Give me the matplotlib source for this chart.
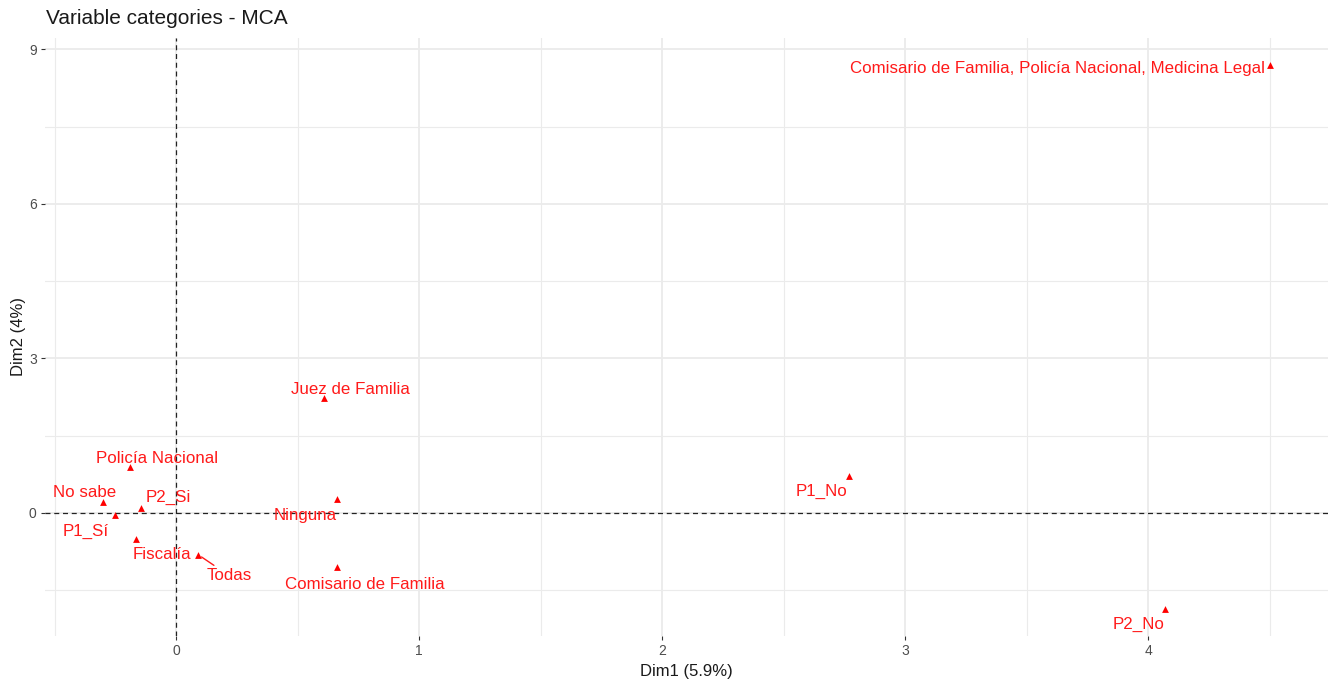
import matplotlib
matplotlib.use("Agg")
import matplotlib.pyplot as plt
from matplotlib.ticker import MultipleLocator

plt.rcParams.update({
    "font.family": ["Liberation Sans", "DejaVu Sans"],
})

# MCA variable categories (Dim1, Dim2)
categories = [
    "Comisario de Familia, Policía Nacional, Medicina Legal",
    "Juez de Familia",
    "Policía Nacional",
    "No sabe",
    "P2_Si",
    "P1_Sí",
    "Fiscalía",
    "Todas",
    "Ninguna",
    "Comisario de Familia",
    "P1_No",
    "P2_No",
]
dim1 = [4.50, 0.61, -0.19, -0.30, -0.145, -0.25, -0.165, 0.09, 0.66, 0.66, 2.77, 4.07]
dim2 = [8.69, 2.23, 0.89, 0.21, 0.10, -0.04, -0.50, -0.81, 0.27, -1.06, 0.72, -1.86]

dim1_label = "Dim1 (5.9%)"
dim2_label = "Dim2 (4%)"
title = "Variable categories - MCA"

# label offsets in pixels (repel-like placement)
label_offsets = [(-212, -3), (26, 9), (27, 9), (-19, 10), (27, 10), (-30, -16),
                 (26, -16), (31, -21), (-31, -17), (28, -17), (-28, -16), (-27, -16)]
with_segment = {"Todas"}

RED = "#FF1A1A"
GRID = "#EBEBEB"

fig = plt.figure(figsize=(13.28, 6.86), dpi=100)
ax = fig.add_axes([45 / 1328, (686 - 636) / 686, 1283 / 1328, (636 - 38) / 686])

ax.set_xlim(-0.54, 4.74)
ax.set_ylim(-2.39, 9.22)

ax.xaxis.set_major_locator(MultipleLocator(1))
ax.xaxis.set_minor_locator(MultipleLocator(0.5))
ax.yaxis.set_major_locator(MultipleLocator(3))
ax.yaxis.set_minor_locator(MultipleLocator(1.5))
ax.grid(which="major", color=GRID, linewidth=1.3)
ax.grid(which="minor", color=GRID, linewidth=0.8)
ax.set_axisbelow(True)

for s in ax.spines.values():
    s.set_visible(False)

ax.tick_params(which="major", length=3, width=0.8, color="#333333",
               labelcolor="#4D4D4D", labelsize=10, pad=3)
ax.tick_params(which="minor", length=0)

ax.axhline(0, color="#222222", linestyle=(0, (4, 3)), linewidth=0.9, zorder=2)
ax.axvline(0, color="#222222", linestyle=(0, (4, 3)), linewidth=0.9, zorder=2)

ax.scatter(dim1, dim2, marker="^", s=24, color="red", zorder=3, linewidths=0)

for name, x, y, off in zip(categories, dim1, dim2, label_offsets):
    arrow = None
    if name in with_segment:
        arrow = dict(arrowstyle="-", color=RED, lw=1.0, shrinkA=0, shrinkB=3)
    ax.annotate(name, (x, y), xytext=off, textcoords="offset pixels",
                ha="center", va="center", color=RED, fontsize=12.2,
                arrowprops=arrow, zorder=4)

ax.set_xlabel(dim1_label, fontsize=12, color="#1A1A1A", labelpad=4)
ax.set_ylabel(dim2_label, fontsize=12, color="#1A1A1A", labelpad=2)
fig.text(46 / 1328, 1 - 19 / 686, title, fontsize=15, color="#1A1A1A",
         ha="left", va="center")

fig.savefig("out.png", dpi=100)
